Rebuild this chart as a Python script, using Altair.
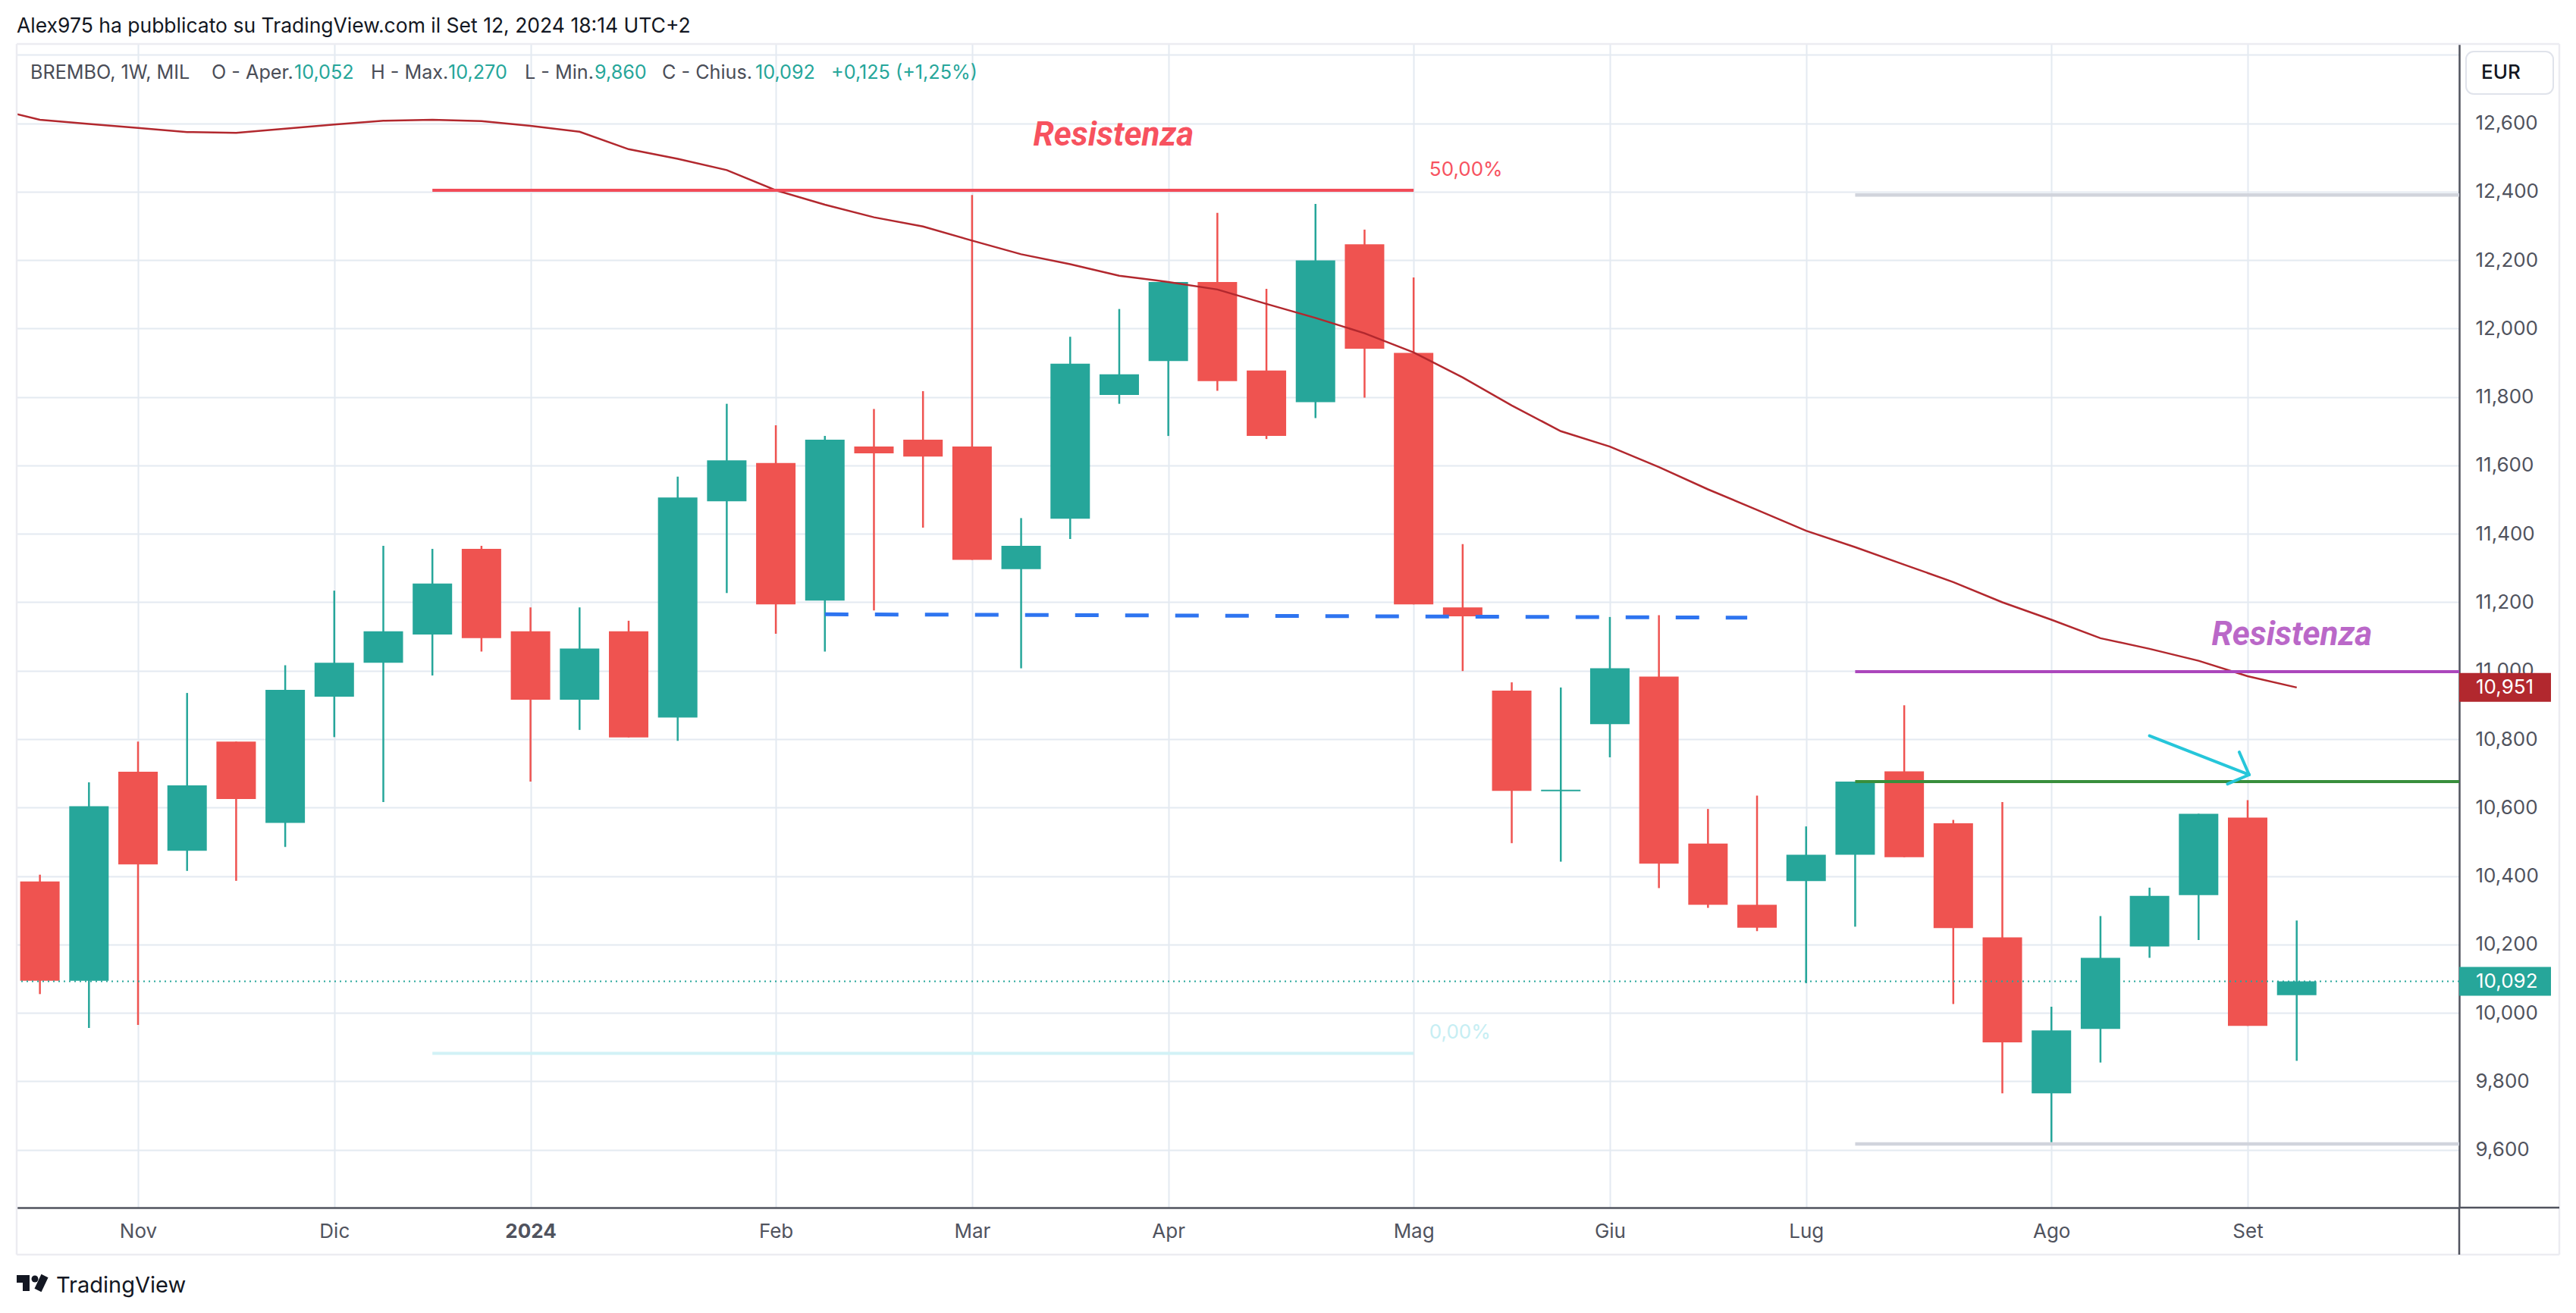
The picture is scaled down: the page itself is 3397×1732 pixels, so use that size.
import altair as alt
import pandas as pd

# ---------------- data ----------------
week_idx = list(range(47))  # weekly bars, Oct 23 2023 ... Sep 9 2024
opens = [10.384, 10.094, 10.705, 10.474, 10.793, 10.555, 10.924, 11.023, 11.106, 11.356,
         11.115, 10.915, 11.115, 10.863, 11.495, 11.607, 11.205, 11.655, 11.675, 11.655,
         11.297, 11.444, 11.806, 11.905, 12.136, 11.877, 11.785, 12.246, 11.929, 11.185,
         10.942, 10.648, 10.844, 10.983, 10.495, 10.316, 10.385, 10.462, 10.706, 10.554,
         10.221, 9.765, 9.953, 10.194, 10.344, 10.571, 10.052]
highs = [10.404, 10.674, 10.793, 10.935, 10.793, 11.016, 11.234, 11.365, 11.356, 11.365,
         11.185, 11.185, 11.146, 11.567, 11.780, 11.717, 11.686, 11.765, 11.817, 12.390,
         11.446, 11.976, 12.057, 12.136, 12.338, 12.116, 12.364, 12.289, 12.149, 11.370,
         10.966, 10.951, 11.157, 11.162, 10.596, 10.635, 10.545, 10.676, 10.899, 10.564,
         10.616, 10.018, 10.283, 10.366, 10.582, 10.622, 10.270]
lows = [10.055, 9.956, 9.965, 10.415, 10.386, 10.485, 10.806, 10.616, 10.986, 11.056,
        10.676, 10.827, 10.805, 10.795, 11.227, 11.108, 11.056, 11.176, 11.418, 11.324,
        11.007, 11.385, 11.780, 11.686, 11.818, 11.677, 11.738, 11.798, 11.194, 10.999,
        10.496, 10.442, 10.747, 10.365, 10.307, 10.239, 10.087, 10.252, 10.455, 10.026,
        9.765, 9.622, 9.855, 10.161, 10.213, 9.962, 9.860]
closes = [10.094, 10.604, 10.434, 10.665, 10.625, 10.944, 11.023, 11.115, 11.255, 11.095,
          10.915, 11.065, 10.805, 11.506, 11.615, 11.194, 11.675, 11.635, 11.626, 11.324,
          11.365, 11.897, 11.866, 12.136, 11.846, 11.686, 12.199, 11.941, 11.194, 11.159,
          10.649, 10.652, 11.007, 10.436, 10.316, 10.249, 10.462, 10.676, 10.455, 10.248,
          9.914, 9.949, 10.161, 10.342, 10.582, 9.962, 10.092]

ma_idx = list(range(-1, 47))
ma_values = [12.645, 12.610, 12.598, 12.586, 12.574, 12.572, 12.584, 12.596, 12.607, 12.610, 12.606,
             12.592, 12.575, 12.524, 12.496, 12.463, 12.404, 12.362, 12.325, 12.298, 12.257,
             12.217, 12.188, 12.154, 12.136, 12.114, 12.072, 12.031, 11.986, 11.930, 11.857,
             11.775, 11.700, 11.655, 11.595, 11.530, 11.470, 11.409, 11.361, 11.310, 11.259,
             11.200, 11.149, 11.095, 11.064, 11.029, 10.984, 10.951]

x_tick_values = [2, 6, 10, 15, 19, 23, 28, 32, 36, 41, 45]
x_tick_labels = ["Nov", "Dic", "2024", "Feb", "Mar", "Apr", "Mag", "Giu", "Lug", "Ago", "Set"]
y_tick_values = [9.6, 9.8, 10.0, 10.2, 10.4, 10.6, 10.8, 11.0, 11.2, 11.4, 11.6, 11.8,
                 12.0, 12.2, 12.4, 12.6, 12.8]

# drawings (bar index, price)
fib_x = [8, 28]
fib_50 = 12.404
fib_0 = 9.882
blue_x = [16.0, 34.8]
blue_y = [11.165, 11.155]
right_lines_x = [37, 49.5]
purple_y = 10.997
green_y = 10.676
grey_top_y = 12.39
grey_bot_y = 9.617
arrow_x1 = [43.0, 44.83, 44.59]
arrow_y1 = [10.81, 10.762, 10.669]
arrow_x2 = [45.03, 45.03, 45.03]
arrow_y2 = [10.696, 10.696, 10.696]

ann_text = ["Resistenza", "Resistenza"]
ann_x = [21.88, 45.9]
ann_y = [12.563, 11.104]
ann_color = ["#F7525F", "#BA68C8"]
fib_lbl_text = ["50,00%", "0,00%"]
fib_lbl_x = [28.32, 28.32]
fib_lbl_y = [12.464, 9.943]
fib_lbl_color = ["#F7525F", "#C6EEF3"]

last_close = 10.092
ma_last = 10.951

header_pieces = ["BREMBO, 1W, MIL", "O - Aper.", "10,052", "H - Max.", "10,270",
                 "L - Min.", "9,860", "C - Chius.", "10,092", "+0,125 (+1,25%)"]
header_is_value = [False, False, True, False, True, False, True, False, True, True]

# ---------------- styling / layout ----------------
FONT = "Inter"
GREEN = "#26A69A"
RED = "#EF5350"
MA_COLOR = "#B2282E"
GRID = "#E4EAF1"
AXIS_DARK = "#50535E"
LABEL = "#50535E"
FRAME = "#ECECF1"
W, H = 3221, 1535
header_x = [18, 257, 366, 467, 569, 670, 762, 851, 974, 1074]

XS = alt.Scale(domain=[-0.396, 49.235], nice=False, zero=False)
YS = alt.Scale(domain=[9.431, 12.8315], nice=False, zero=False)

xlabel_expr = ""
for v, l in zip(x_tick_values, x_tick_labels):
    xlabel_expr += f"datum.value == {v} ? '{l}' : "
xlabel_expr += "''"

x_axis = alt.Axis(values=x_tick_values, labelExpr=xlabel_expr, title=None, grid=True,
                  gridColor=GRID, gridWidth=2, domainColor=AXIS_DARK, domainWidth=2.5,
                  ticks=False, tickSize=0, labelFont=FONT, labelFontSize=26, labelColor=LABEL,
                  labelPadding=31, labelBaseline="middle", labelFlush=False, labelOverlap=False,
                  labelFontWeight={"condition": {"test": "datum.value == 10", "value": "bold"},
                                   "value": "normal"})
y_axis = alt.Axis(orient="right", values=y_tick_values,
                  labelExpr="datum.value > 12.7 ? '' : replace(format(datum.value, '.3f'), '.', ',')",
                  title=None, grid=True, gridColor=GRID, gridWidth=2, domainColor=AXIS_DARK,
                  domainWidth=2.5, ticks=False, tickSize=0, labelFont=FONT, labelFontSize=26,
                  labelColor=LABEL, labelPadding=21, labelAlign="left", labelBaseline="middle",
                  labelFlush=False, labelOverlap=False)


def X(f):
    return alt.X(f, type="quantitative", scale=XS, axis=x_axis)


def Y(f):
    return alt.Y(f, type="quantitative", scale=YS, axis=y_axis)


candles = pd.DataFrame({"i": week_idx, "open": opens, "high": highs, "low": lows, "close": closes})
ma_df = pd.DataFrame({"i": ma_idx, "ma": ma_values})
one = pd.DataFrame({"k": [0]})

updown = alt.condition("datum.close >= datum.open", alt.value(GREEN), alt.value(RED))

wicks = alt.Chart(candles).mark_rule(strokeWidth=2.5).encode(
    x=X("i"), y=Y("low"), y2="high", color=updown)
bodies = alt.Chart(candles).mark_bar(size=52).encode(
    x=X("i"), y=Y("open"), y2="close", color=updown)

ma_line = alt.Chart(ma_df).mark_line(color=MA_COLOR, strokeWidth=2.5, clip=True).encode(
    x=X("i"), y=Y("ma"))

last_line = alt.Chart(pd.DataFrame({"p": [last_close]})).mark_rule(
    color=GREEN, strokeWidth=2, strokeDash=[2, 5]).encode(y=Y("p"))


def hline(xs, ys, color, width, dash=None):
    df = pd.DataFrame({"x1": [xs[0]], "x2": [xs[1]], "y1": [ys[0]], "y2": [ys[1]]})
    kw = dict(color=color, strokeWidth=width, clip=True)
    if dash:
        kw["strokeDash"] = dash
    return alt.Chart(df).mark_rule(**kw).encode(x=X("x1"), x2="x2", y=Y("y1"), y2="y2")


fib50_line = hline(fib_x, [fib_50, fib_50], "#F24B58", 4)
fib0_line = hline(fib_x, [fib_0, fib_0], "#D2F2F6", 4)
blue_line = hline(blue_x, blue_y, "#2E74F0", 5, [31, 35])
purple_line = hline(right_lines_x, [purple_y, purple_y], "#AB47BC", 4)
green_line = hline(right_lines_x, [green_y, green_y], "#388E3C", 4)
grey_top = hline(right_lines_x, [grey_top_y, grey_top_y], "#D1D4DC", 4.5)
grey_bot = hline(right_lines_x, [grey_bot_y, grey_bot_y], "#D1D4DC", 4.5)

arrow_df = pd.DataFrame({"x1": arrow_x1, "y1": arrow_y1, "x2": arrow_x2, "y2": arrow_y2})
arrow = alt.Chart(arrow_df).mark_rule(color="#26C6DA", strokeWidth=4, strokeCap="round").encode(
    x=X("x1"), x2="x2", y=Y("y1"), y2="y2")

ann_df = pd.DataFrame({"t": ann_text, "x": ann_x, "y": ann_y, "c": ann_color})
ann = alt.Chart(ann_df).mark_text(font="Roboto", fontSize=44, fontWeight="bold", fontStyle="italic",
                                  align="center", baseline="middle").encode(
    x=X("x"), y=Y("y"), text="t", color=alt.Color("c:N", scale=None))

fib_lbl_df = pd.DataFrame({"t": fib_lbl_text, "x": fib_lbl_x, "y": fib_lbl_y, "c": fib_lbl_color})
fib_lbls = alt.Chart(fib_lbl_df).mark_text(font=FONT, fontSize=26, align="left", baseline="middle").encode(
    x=X("x"), y=Y("y"), text="t", color=alt.Color("c:N", scale=None))

# price tags on the right axis
tag_df = pd.DataFrame({"p": [ma_last, last_close],
                       "t": ["10,951", "10,092"],
                       "c": [MA_COLOR, GREEN]})
tags = alt.Chart(tag_df).mark_rule(strokeWidth=38).encode(
    x=alt.value(W), x2=alt.value(W + 121), y=Y("p"), color=alt.Color("c:N", scale=None))
tag_txt = alt.Chart(tag_df).mark_text(font=FONT, fontSize=26, color="white", align="left",
                                      baseline="middle").encode(
    x=alt.value(W + 22), y=Y("p"), text="t")

# frame, axis extensions, EUR box
def pix_rule(x, y, x2, y2, color, width):
    return alt.Chart(one).mark_rule(color=color, strokeWidth=width).encode(
        x=alt.value(x), y=alt.value(y), x2=alt.value(x2), y2=alt.value(y2))

RIGHT = 3353
BOTTOM = 1597
frame = [
    pix_rule(0, 0, RIGHT, 0, FRAME, 2.5),
    pix_rule(0, BOTTOM, RIGHT, BOTTOM, FRAME, 2.5),
    pix_rule(0, 0, 0, BOTTOM, FRAME, 2.5),
    pix_rule(RIGHT, 0, RIGHT, BOTTOM, FRAME, 2.5),
    pix_rule(W, H, RIGHT, H, AXIS_DARK, 2.5),
    pix_rule(W, H, W, BOTTOM, AXIS_DARK, 2.5),
]

eur_box = alt.Chart(one).mark_rect(fill="white", stroke="#E0E3EB", strokeWidth=2, cornerRadius=10).encode(
    x=alt.value(3230), x2=alt.value(3345), y=alt.value(10), y2=alt.value(66))
eur_txt = alt.Chart(one).mark_text(text="EUR", font=FONT, fontSize=26, fontWeight=500, color="#131722",
                                   align="center", baseline="middle").encode(
    x=alt.value(3276), y=alt.value(38))

title_txt = alt.Chart(one).mark_text(
    text="Alex975 ha pubblicato su TradingView.com il Set 12, 2024 18:14 UTC+2",
    font=FONT, fontSize=26.5, color="#131722", align="left", baseline="middle").encode(
    x=alt.value(0), y=alt.value(-23))

header = []
for t, isv, px in zip(header_pieces, header_is_value, header_x):
    header.append(alt.Chart(one).mark_text(text=t, font=FONT, fontSize=25.2,
                                           color=(GREEN if isv else "#4A4D57"),
                                           align="left", baseline="middle").encode(
        x=alt.value(px), y=alt.value(38)))

# TradingView logo
LOGO = "#131722"
logo = [
    alt.Chart(one).mark_rect(color=LOGO).encode(x=alt.value(0), x2=alt.value(17),
                                               y=alt.value(1624), y2=alt.value(1634)),
    alt.Chart(one).mark_rect(color=LOGO).encode(x=alt.value(8), x2=alt.value(17),
                                               y=alt.value(1624), y2=alt.value(1645)),
    alt.Chart(one).mark_circle(color=LOGO, size=80, opacity=1).encode(x=alt.value(24), y=alt.value(1629)),
    pix_rule(37, 1625, 28, 1644, LOGO, 10),
    alt.Chart(one).mark_text(text="TradingView", font=FONT, fontSize=29, color=LOGO,
                             align="left", baseline="middle").encode(x=alt.value(52), y=alt.value(1638)),
]

chart = alt.layer(
    wicks, bodies, last_line, ma_line,
    fib50_line, fib0_line, blue_line, grey_top, grey_bot, purple_line, green_line, arrow,
    ann, fib_lbls, tags, tag_txt, *frame, eur_box, eur_txt, title_txt, *header, *logo,
).properties(
    width=W, height=H,
    autosize=alt.AutoSizeParams(type="none"),
    padding={"left": 14, "top": 50, "right": 140, "bottom": 120},
    background="white",
).configure_view(stroke=None)

chart.save("out.html", embed_options={"renderer": "svg", "actions": False})
